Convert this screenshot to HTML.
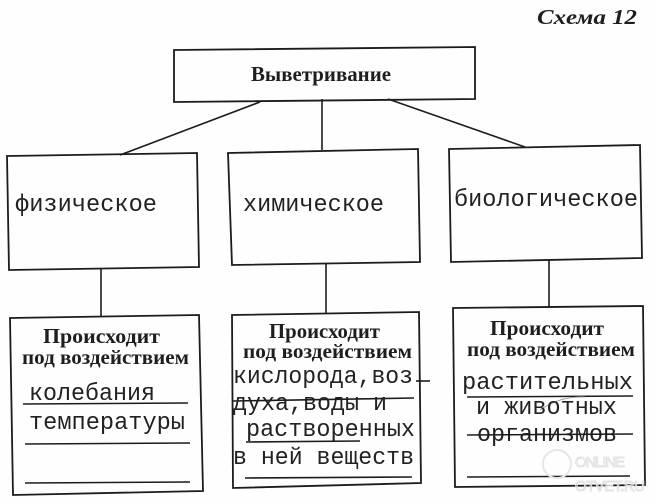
<!DOCTYPE html>
<html>
<head>
<meta charset="utf-8">
<style>
  html, body { margin: 0; padding: 0; background: #ffffff; }
  body { width: 657px; height: 503px; overflow: hidden; }
  svg { display: block; }
  .ser { font-family: "Liberation Serif", "DejaVu Serif", serif; font-weight: bold; fill: #1e1e1e; }
  .mono { font-family: "Liberation Mono", "DejaVu Sans Mono", monospace; fill: #222; font-size: 24px; }
  .ln { stroke: #1c1c1c; stroke-width: 1.6; fill: none; }
  .bx { stroke: #1c1c1c; stroke-width: 1.8; fill: none; }
</style>
</head>
<body>
<svg width="657" height="503" viewBox="0 0 657 503" xmlns="http://www.w3.org/2000/svg">
  <rect x="0" y="0" width="657" height="503" fill="#fefefe"/>

  <!-- title -->
  <text class="ser" x="537" y="24" font-size="21" font-style="italic" textLength="100" lengthAdjust="spacingAndGlyphs">Схема 12</text>

  <!-- top box -->
  <polygon class="bx" points="174,50 475,47 475,99 174,102"/>
  <text class="ser" x="251" y="81" font-size="21" textLength="140" lengthAdjust="spacingAndGlyphs">Выветривание</text>

  <!-- connectors top -> middle -->
  <line class="ln" x1="260" y1="102" x2="120" y2="155"/>
  <line class="ln" x1="322" y1="99" x2="322" y2="150"/>
  <line class="ln" x1="388" y1="99" x2="525" y2="147"/>

  <!-- middle boxes -->
  <polygon class="bx" points="7,156 197,153 199,267 9,270"/>
  <polygon class="bx" points="228,153 418,149 420,262 232,265"/>
  <polygon class="bx" points="449,149 640,145 642,258 451,262"/>

  <text class="mono" x="15" y="211" textLength="142" lengthAdjust="spacingAndGlyphs">физическое</text>
  <text class="mono" x="243" y="211" textLength="141" lengthAdjust="spacingAndGlyphs">химическое</text>
  <text class="mono" x="454" y="206" textLength="184" lengthAdjust="spacingAndGlyphs">биологическое</text>

  <!-- connectors middle -> bottom -->
  <line class="ln" x1="101" y1="269" x2="101" y2="317"/>
  <line class="ln" x1="326" y1="264" x2="326" y2="313"/>
  <line class="ln" x1="549" y1="260" x2="549" y2="308"/>

  <!-- bottom boxes -->
  <polygon class="bx" points="10,318 199,315 203,491 13,495"/>
  <polygon class="bx" points="232,315 419,312 421,483 233,488"/>
  <polygon class="bx" points="453,308 643,306 645,485 455,487"/>

  <!-- left bottom -->
  <text class="ser" x="43" y="343" font-size="21" textLength="117" lengthAdjust="spacingAndGlyphs">Происходит</text>
  <text class="ser" x="22" y="364" font-size="19.5" textLength="167" lengthAdjust="spacingAndGlyphs">под воздействием</text>
  <text class="mono" x="29" y="400" textLength="126" lengthAdjust="spacingAndGlyphs">колебания</text>
  <line class="ln" x1="23" y1="404" x2="188" y2="403"/>
  <text class="mono" x="29" y="429" textLength="156" lengthAdjust="spacingAndGlyphs">температуры</text>
  <line class="ln" x1="25" y1="444" x2="190" y2="443"/>
  <line class="ln" x1="25" y1="483" x2="190" y2="482"/>

  <!-- middle bottom -->
  <text class="ser" x="269" y="338" font-size="21" textLength="111" lengthAdjust="spacingAndGlyphs">Происходит</text>
  <text class="ser" x="243" y="358" font-size="19.5" textLength="169" lengthAdjust="spacingAndGlyphs">под воздействием</text>
  <text class="mono" x="233" y="383" textLength="180" lengthAdjust="spacingAndGlyphs">кислорода,воз</text>
  <line class="ln" x1="416" y1="381" x2="430" y2="381"/>
  <line class="ln" x1="233" y1="401" x2="414" y2="398"/>
  <text class="mono" x="233" y="410" textLength="154" lengthAdjust="spacingAndGlyphs">духа,воды и</text>
  <text class="mono" x="246" y="436" textLength="169" lengthAdjust="spacingAndGlyphs">растворенных</text>
  <line class="ln" x1="246" y1="442" x2="360" y2="441"/>
  <text class="mono" x="233" y="464" textLength="181" lengthAdjust="spacingAndGlyphs">в ней веществ</text>
  <line class="ln" x1="245" y1="478" x2="412" y2="477"/>

  <!-- right bottom -->
  <text class="ser" x="490" y="335" font-size="21" textLength="114" lengthAdjust="spacingAndGlyphs">Происходит</text>
  <text class="ser" x="467" y="356" font-size="19.5" textLength="168" lengthAdjust="spacingAndGlyphs">под воздействием</text>
  <text class="mono" x="462" y="389" textLength="171" lengthAdjust="spacingAndGlyphs">растительных</text>
  <line class="ln" x1="467" y1="397" x2="633" y2="396"/>
  <path d="M 540 410 Q 560 396 585 397" stroke="#999" stroke-width="0.8" fill="none"/>
  <text class="mono" x="476" y="414" textLength="141" lengthAdjust="spacingAndGlyphs">и животных</text>
  <text class="mono" x="477" y="441" textLength="140" lengthAdjust="spacingAndGlyphs">организмов</text>
  <line class="ln" x1="467" y1="435" x2="633" y2="434"/>
  <line class="ln" x1="467" y1="477" x2="630" y2="476"/>

  <!-- faint watermark -->
  <circle cx="557" cy="464" r="14" fill="none" stroke="#e6e6e6" stroke-width="2"/>
  <text x="575" y="467" font-family="Liberation Sans, sans-serif" font-size="15" fill="none" stroke="#e2e2e2" stroke-width="1" textLength="50">ONLINE</text>
  <text x="575" y="491" font-family="Liberation Sans, sans-serif" font-size="15" fill="none" stroke="#e2e2e2" stroke-width="1" textLength="70">OTVET.RU</text>
</svg>
</body>
</html>
